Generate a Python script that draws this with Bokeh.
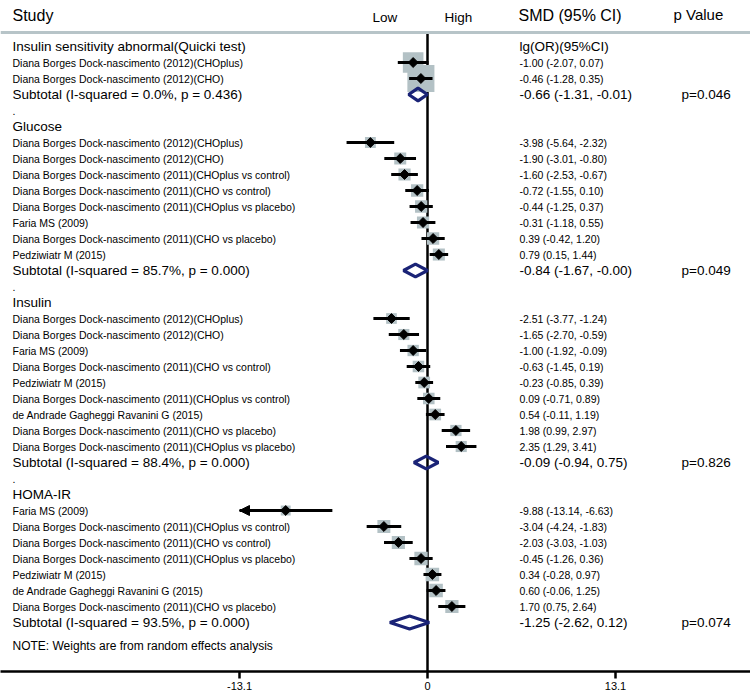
import math
from bokeh.plotting import figure
from bokeh.models import Range1d, FixedTicker, Span, Arrow, NormalHead
from bokeh.core.properties import value
from bokeh.embed import file_html
from bokeh.resources import INLINE

FONT = "Liberation Sans"

# ---------------- data ----------------
group_names = ["Insulin sensitivity abnormal(Quicki test)", "Glucose", "Insulin", "HOMA-IR"]

quicki_studies = ["Diana Borges Dock-nascimento (2012)(CHOplus)",
                  "Diana Borges Dock-nascimento (2012)(CHO)"]
quicki_est = [-1.00, -0.46]
quicki_lo = [-2.07, -1.28]
quicki_hi = [0.07, 0.35]
quicki_w = [36.7, 63.3]

glucose_studies = ["Diana Borges Dock-nascimento (2012)(CHOplus)",
                   "Diana Borges Dock-nascimento (2012)(CHO)",
                   "Diana Borges Dock-nascimento (2011)(CHOplus vs control)",
                   "Diana Borges Dock-nascimento (2011)(CHO vs control)",
                   "Diana Borges Dock-nascimento (2011)(CHOplus vs placebo)",
                   "Faria MS (2009)",
                   "Diana Borges Dock-nascimento (2011)(CHO vs placebo)",
                   "Pedziwiatr M (2015)"]
glucose_est = [-3.98, -1.90, -1.60, -0.72, -0.44, -0.31, 0.39, 0.79]
glucose_lo = [-5.64, -3.01, -2.53, -1.55, -1.25, -1.18, -0.42, 0.15]
glucose_hi = [-2.32, -0.80, -0.67, 0.10, 0.37, 0.55, 1.20, 1.44]
glucose_w = [10.2, 12.4, 12.8, 13.0, 13.1, 12.9, 13.0, 12.6]

insulin_studies = ["Diana Borges Dock-nascimento (2012)(CHOplus)",
                   "Diana Borges Dock-nascimento (2012)(CHO)",
                   "Faria MS (2009)",
                   "Diana Borges Dock-nascimento (2011)(CHO vs control)",
                   "Pedziwiatr M (2015)",
                   "Diana Borges Dock-nascimento (2011)(CHOplus vs control)",
                   "de Andrade Gagheggi Ravanini G (2015)",
                   "Diana Borges Dock-nascimento (2011)(CHO vs placebo)",
                   "Diana Borges Dock-nascimento (2011)(CHOplus vs placebo)"]
insulin_est = [-2.51, -1.65, -1.00, -0.63, -0.23, 0.09, 0.54, 1.98, 2.35]
insulin_lo = [-3.77, -2.70, -1.92, -1.45, -0.85, -0.71, -0.11, 0.99, 1.29]
insulin_hi = [-1.24, -0.59, -0.09, 0.19, 0.39, 0.89, 1.19, 2.97, 3.41]
insulin_w = [9.9, 10.7, 11.1, 11.5, 11.9, 11.5, 11.8, 10.9, 10.7]

homa_studies = ["Faria MS (2009)",
                "Diana Borges Dock-nascimento (2011)(CHOplus vs control)",
                "Diana Borges Dock-nascimento (2011)(CHO vs control)",
                "Diana Borges Dock-nascimento (2011)(CHOplus vs placebo)",
                "Pedziwiatr M (2015)",
                "de Andrade Gagheggi Ravanini G (2015)",
                "Diana Borges Dock-nascimento (2011)(CHO vs placebo)"]
homa_est = [-9.88, -3.04, -2.03, -0.45, 0.34, 0.60, 1.70]
homa_lo = [-13.14, -4.24, -3.03, -1.26, -0.28, -0.06, 0.75]
homa_hi = [-6.63, -1.83, -1.03, 0.36, 0.97, 1.25, 2.64]
homa_w = [8.5, 14.5, 15.0, 15.4, 15.8, 15.7, 15.1]

subtotal_est = [-0.66, -0.84, -0.09, -1.25]
subtotal_lo = [-1.31, -1.67, -0.94, -2.62]
subtotal_hi = [-0.01, -0.0, 0.75, 0.12]
subtotal_i2 = [0.0, 85.7, 88.4, 93.5]
subtotal_phet = ["0.436", "0.000", "0.000", "0.000"]
p_values = ["p=0.046", "p=0.049", "p=0.826", "p=0.074"]

tick_values = [-13.1, 0, 13.1]
tick_labels = ["-13.1", "0", "13.1"]

# ---------------- layout helpers (pixels of the 750x698 window) ----------------
ZERO_PX, PX_PER_UNIT = 427.0, 14.35
ROW0_PX, ROW_PX = 46.0, 16.0
FRAME_W, FRAME_H, MARGIN = 750, 671, 0

def xd(sx):
    return (sx - ZERO_PX) / PX_PER_UNIT

def yd(sy):
    return (sy - ROW0_PX) / ROW_PX

X_START, X_END = xd(MARGIN), xd(MARGIN + FRAME_W)
Y_TOP, Y_BOTTOM = yd(MARGIN), yd(MARGIN + FRAME_H)

BOX_COLOR = "#b3c1c5"
DIAMOND_COLOR = "#1a2376"

p = figure(frame_width=FRAME_W, frame_height=FRAME_H,
           x_range=Range1d(X_START, X_END), y_range=Range1d(Y_BOTTOM, Y_TOP),
           output_backend="svg", toolbar_location=None, y_axis_location=None,
           min_border_left=0, min_border_right=0, min_border_top=0, min_border_bottom=0)
p.outline_line_color = None
p.xgrid.visible = False
p.ygrid.visible = False
p.background_fill_color = "white"
p.border_fill_color = "white"

ax = p.xaxis[0]
ax.ticker = FixedTicker(ticks=tick_values)
ax.major_label_overrides = {t: l for t, l in zip(tick_values, tick_labels)}
ax.axis_line_width = 2.5
ax.axis_line_color = "black"
ax.major_tick_line_width = 2.5
ax.major_tick_line_color = "black"
ax.major_tick_out = 7
ax.major_tick_in = 0
ax.minor_tick_out = 0
ax.minor_tick_in = 0
ax.major_label_standoff = 3
ax.major_label_text_font = FONT
ax.major_label_text_font_size = "11px"
ax.major_label_text_color = "black"

# ---------------- build rows ----------------
groups = [
    (quicki_studies, quicki_est, quicki_lo, quicki_hi, quicki_w),
    (glucose_studies, glucose_est, glucose_lo, glucose_hi, glucose_w),
    (insulin_studies, insulin_est, insulin_lo, insulin_hi, insulin_w),
    (homa_studies, homa_est, homa_lo, homa_hi, homa_w),
]

study = dict(y=[], name=[], est=[], lo=[], hi=[], w=[])
header_rows, sub_rows, dot_rows = [], [], []
k = 0
for gi, (names, est, lo, hi, w) in enumerate(groups):
    header_rows.append(k)
    k += 1
    for n, e, l, h, ww in zip(names, est, lo, hi, w):
        study["y"].append(k)
        study["name"].append(n)
        study["est"].append(e)
        study["lo"].append(l)
        study["hi"].append(h)
        study["w"].append(ww)
        k += 1
    sub_rows.append(k)
    k += 1
    if gi < len(groups) - 1:
        dot_rows.append(k)
        k += 1

def fmt(e, l, h):
    return f"{e:.2f} ({l:.2f}, {h:.2f})"

xmin_clip = min(tick_values)
xmax_clip = max(tick_values)

# top rule and zero line
p.add_layout(Span(location=yd(32), dimension="width", line_color="#b7c4c8", line_width=3))
p.segment(x0=[0], y0=[yd(33)], x1=[0], y1=[Y_BOTTOM], line_color="black", line_width=2.5)

# weight boxes
p.scatter(x=study["est"], y=study["y"], marker="square",
          size=[3.4 * math.sqrt(w) for w in study["w"]],
          fill_color=BOX_COLOR, line_color=None)

# confidence intervals
lo_c = [max(l, xmin_clip) for l in study["lo"]]
hi_c = [min(h, xmax_clip) for h in study["hi"]]
p.segment(x0=lo_c, y0=study["y"], x1=hi_c, y1=study["y"], line_color="black", line_width=3)
for e, l, y in zip(study["est"], study["lo"], study["y"]):
    if l < xmin_clip:
        p.add_layout(Arrow(end=NormalHead(size=10, fill_color="black", line_color="black"),
                           x_start=e, y_start=y, x_end=xmin_clip, y_end=y,
                           line_color="black", line_width=3))

# point estimates
p.scatter(x=study["est"], y=study["y"], marker="square", angle=math.pi / 4, size=7,
          fill_color="black", line_color="black")

# subtotal diamonds
dh = 0.4
p.patches(xs=[[l, e, h, e] for e, l, h in zip(subtotal_est, subtotal_lo, subtotal_hi)],
          ys=[[y, y - dh, y, y + dh] for y in sub_rows],
          fill_color=None, line_color=DIAMOND_COLOR, line_width=3.2)

# ---------------- texts ----------------
def txt(x, y, t, size, align="left"):
    p.text(x=x, y=y, text=t, text_font=value(FONT), text_font_size=value(size),
           text_baseline="middle", text_align=align, text_color="black")

LEFT = xd(12)
EFF = xd(519)
PCOL = xd(681)

# column headers
txt([LEFT], [yd(15)], ["Study"], "16px")
txt([xd(372)], [yd(17)], ["Low"], "13.5px")
txt([xd(444)], [yd(17)], ["High"], "13.5px")
txt([xd(518)], [yd(15)], ["SMD (95% CI)"], "16px")
txt([xd(673)], [yd(13.5)], ["p Value"], "15px")

# group headers
txt([LEFT] * len(header_rows), header_rows, group_names, "13.5px")
txt([EFF], [header_rows[0]], ["lg(OR)(95%CI)"], "13.5px")

# study rows
txt([LEFT] * len(study["y"]), study["y"], study["name"], "10.5px")
txt([EFF] * len(study["y"]), study["y"],
    [fmt(e, l, h) for e, l, h in zip(study["est"], study["lo"], study["hi"])], "10.5px")

# subtotals
txt([LEFT] * len(sub_rows), sub_rows,
    [f"Subtotal  (I-squared = {i2:.1f}%, p = {ph})" for i2, ph in zip(subtotal_i2, subtotal_phet)],
    "13.5px")
txt([EFF] * len(sub_rows), sub_rows,
    [fmt(e, l, h) for e, l, h in zip(subtotal_est, subtotal_lo, subtotal_hi)], "13.5px")
txt([PCOL] * len(sub_rows), sub_rows, p_values, "13.5px")

# spacer dots
txt([LEFT] * len(dot_rows), dot_rows, ["."] * len(dot_rows), "10.5px")

# note
txt([LEFT], [yd(645)], ["NOTE: Weights are from random effects analysis"], "12px")

open("out.html", "w").write(file_html(p, INLINE))
